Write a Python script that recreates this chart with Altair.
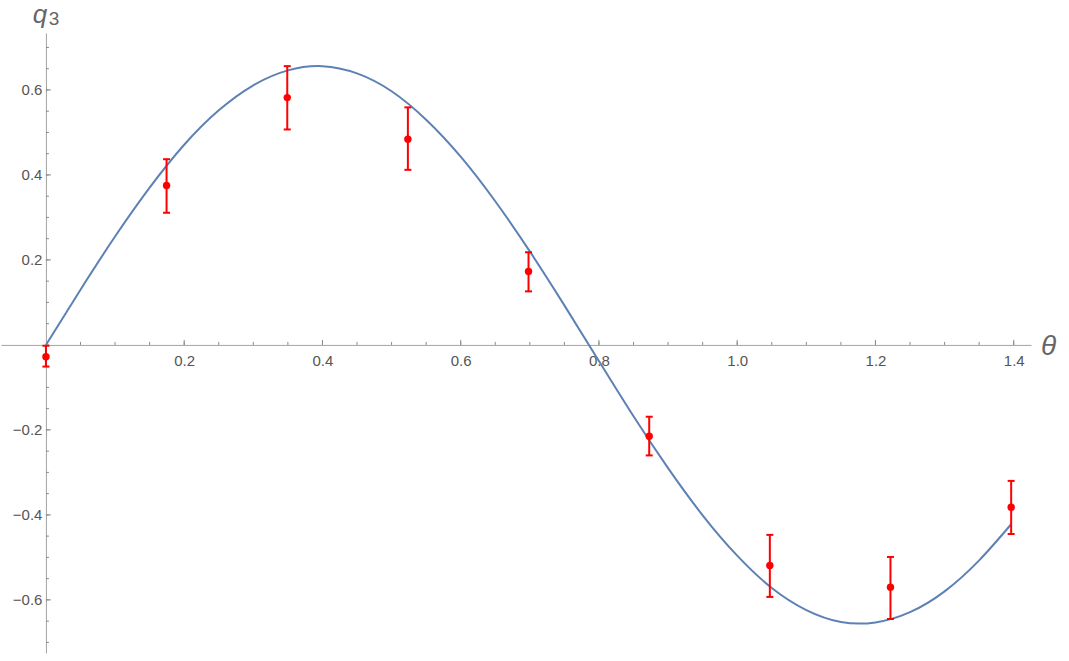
import altair as alt
import pandas as pd

# Measured q3 at each angle (radians), with lower / upper ends of the error bars
theta = [0.0, 0.1745, 0.3491, 0.5236, 0.6981, 0.8727, 1.0472, 1.2217, 1.3963]
q3_mean = [-0.028, 0.375, 0.582, 0.484, 0.173, -0.215, -0.519, -0.570, -0.382]
q3_low = [-0.051, 0.311, 0.507, 0.412, 0.126, -0.260, -0.593, -0.645, -0.445]
q3_high = [-0.002, 0.437, 0.656, 0.559, 0.218, -0.169, -0.447, -0.499, -0.320]

# Theoretical curve, sampled every 0.05 rad
curve_theta = [0.0, 0.05, 0.10, 0.15, 0.20, 0.25, 0.30, 0.35, 0.40, 0.45, 0.50,
               0.55, 0.60, 0.65, 0.70, 0.75, 0.80, 0.85, 0.90, 0.95, 1.00, 1.05,
               1.10, 1.15, 1.20, 1.25, 1.30, 1.35, 1.3963]
curve_q3 = [0.0, 0.130, 0.255, 0.370, 0.471, 0.552, 0.611, 0.646, 0.656, 0.639,
            0.597, 0.530, 0.443, 0.338, 0.220, 0.093, -0.038, -0.168, -0.290,
            -0.401, -0.496, -0.572, -0.624, -0.652, -0.653, -0.629,
            -0.580, -0.507, -0.422]

# Tick positions
x_major = [0.2, 0.4, 0.6, 0.8, 1.0, 1.2, 1.4]
x_minor = [round(0.05 * i, 2) for i in range(1, 29)]
y_major = [-0.6, -0.4, -0.2, 0.2, 0.4, 0.6]
y_minor = [round(-0.7 + 0.05 * i, 2) for i in range(0, 29)]

X_DOMAIN = [-0.065, 1.425]
Y_DOMAIN = [-0.725, 0.734]
W, H = 1030, 620

# where the zero lines fall inside the plot area
x0_px = (0 - X_DOMAIN[0]) / (X_DOMAIN[1] - X_DOMAIN[0]) * W
y0_px = (Y_DOMAIN[1] - 0) / (Y_DOMAIN[1] - Y_DOMAIN[0]) * H

AXIS_GRAY = "#a3a3a3"
TICK_GRAY = "#8a8a8a"
LABEL_GRAY = "#555555"
FONT = "Liberation Sans"
RED = "#ff0000"
BLUE = "#5e81b5"

xs = alt.Scale(domain=X_DOMAIN, nice=False, zero=False)
ys = alt.Scale(domain=Y_DOMAIN, nice=False, zero=False)

x_axis = alt.Axis(values=x_major, format=".1f", orient="bottom",
                  offset=-(H - y0_px), ticks=False, grid=False,
                  domainColor=AXIS_GRAY, domainWidth=1,
                  labelPadding=9, labelFontSize=15, labelColor=LABEL_GRAY,
                  labelFont=FONT, labelOverlap=False, labelFlush=False)
y_axis = alt.Axis(values=y_major, format=".1f", orient="left",
                  offset=-x0_px, ticks=False, grid=False,
                  domainColor=AXIS_GRAY, domainWidth=1,
                  labelPadding=4, labelFontSize=15, labelColor=LABEL_GRAY,
                  labelFont=FONT, labelOverlap=False, labelFlush=False)


def X(field):
    return alt.X(field, scale=xs, title=None, axis=x_axis)


def Y(field):
    return alt.Y(field, scale=ys, title=None, axis=y_axis)


pts = pd.DataFrame({"t": theta, "q": q3_mean, "lo": q3_low, "hi": q3_high})
curve = pd.DataFrame({"t": curve_theta, "q": curve_q3})

line = alt.Chart(curve).mark_line(color=BLUE, strokeWidth=2, interpolate="natural").encode(
    x=X("t:Q"), y=Y("q:Q"))

# tick marks pointing into the plot, along the zero lines
xt_major = alt.Chart(pd.DataFrame({"t": x_major})).mark_rule(
    color=TICK_GRAY, strokeWidth=1, y2Offset=-5).encode(
    x=X("t:Q"), y=alt.datum(0), y2=alt.datum(0))
xt_minor = alt.Chart(pd.DataFrame({"t": x_minor})).mark_rule(
    color=TICK_GRAY, strokeWidth=1, y2Offset=-3).encode(
    x=X("t:Q"), y=alt.datum(0), y2=alt.datum(0))
yt_major = alt.Chart(pd.DataFrame({"v": y_major})).mark_rule(
    color=TICK_GRAY, strokeWidth=1, x2Offset=5).encode(
    y=Y("v:Q"), x=alt.datum(0), x2=alt.datum(0))
yt_minor = alt.Chart(pd.DataFrame({"v": y_minor})).mark_rule(
    color=TICK_GRAY, strokeWidth=1, x2Offset=3).encode(
    y=Y("v:Q"), x=alt.datum(0), x2=alt.datum(0))

bars = alt.Chart(pts).mark_rule(color=RED, strokeWidth=2).encode(
    x=X("t:Q"), y=Y("lo:Q"), y2="hi:Q")
cap_lo = alt.Chart(pts).mark_tick(color=RED, orient="horizontal", size=7,
                                  thickness=2, opacity=1).encode(
    x=X("t:Q"), y=Y("lo:Q"))
cap_hi = alt.Chart(pts).mark_tick(color=RED, orient="horizontal", size=7,
                                  thickness=2, opacity=1).encode(
    x=X("t:Q"), y=Y("hi:Q"))
dots = alt.Chart(pts).mark_circle(color=RED, size=55, opacity=1).encode(
    x=X("t:Q"), y=Y("q:Q"))

# axis names: q with subscript 3, and theta
q_label = alt.Chart(pd.DataFrame({"s": ["q"]})).mark_text(
    font=FONT, fontSize=26, fontStyle="italic", color="#666666",
    align="center", baseline="alphabetic").encode(
    text="s:N", x=alt.value(39), y=alt.value(-10))
q_sub = alt.Chart(pd.DataFrame({"s": ["3"]})).mark_text(
    font=FONT, fontSize=19, color="#666666",
    align="center", baseline="alphabetic").encode(
    text="s:N", x=alt.value(53), y=alt.value(-8))
th_label = alt.Chart(pd.DataFrame({"s": ["θ"]})).mark_text(
    font=FONT, fontSize=28, fontStyle="italic", color="#666666",
    align="left", baseline="alphabetic").encode(
    text="s:N", x=alt.value(1040), y=alt.value(322))

chart = alt.layer(
    line, xt_minor, xt_major, yt_minor, yt_major,
    bars, cap_lo, cap_hi, dots, q_label, q_sub, th_label
).properties(
    width=W, height=H,
    padding={"left": 1, "top": 33, "right": 38, "bottom": 8},
    autosize=alt.AutoSizeParams(type="none"),
    background="white",
).configure_view(stroke=None)

chart.save("out.html", embed_options={"renderer": "svg", "actions": False})
